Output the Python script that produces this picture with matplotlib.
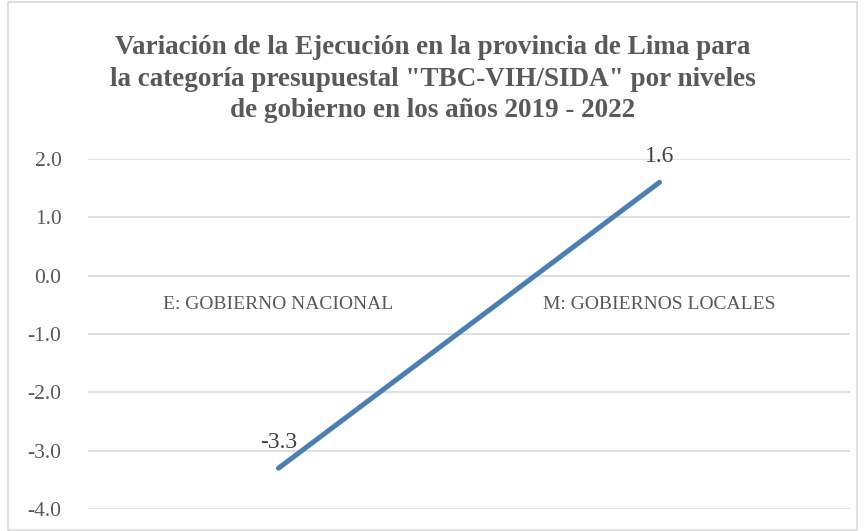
import matplotlib.pyplot as plt
from matplotlib.patches import Rectangle

# data
categories = ["E: GOBIERNO NACIONAL", "M: GOBIERNOS LOCALES"]
variation = [-3.3, 1.6]
y_ticks = [-4.0, -3.0, -2.0, -1.0, 0.0, 1.0, 2.0]

title = ('Variación de la Ejecución en la provincia de Lima para\n'
         'la categoría presupuestal "TBC-VIH/SIDA" por niveles\n'
         'de gobierno en los años 2019 - 2022')

plt.rcParams['font.family'] = ['Liberation Serif', 'DejaVu Serif']

fig = plt.figure(figsize=(8.65, 5.31), dpi=100)
ax = fig.add_axes([0.1017, 0.0414, 0.8810, 0.6592])

x = list(range(len(categories)))
ax.plot(x, variation, color='#4a7ebb', linewidth=3.6, solid_capstyle='round', zorder=3)

for xi, v in zip(x, variation):
    ax.annotate(f"{v:.1f}", (xi, v), xytext=(0, 11), textcoords='offset points',
                ha='center', va='bottom', fontsize=17, color='#404040')

# category axis crosses at zero, like the Excel original
ax.spines['bottom'].set_position(('data', 0))
ax.set_xlim(-0.5, 1.5)
ax.set_ylim(-4, 2)
ax.set_yticks(y_ticks)
ax.set_yticklabels([f"{t:.1f}" for t in y_ticks], fontsize=15.5, color='#595959')
ax.set_xticks(x)
ax.set_xticklabels(categories, fontsize=14, color='#595959')
ax.tick_params(axis='x', length=0, pad=14.5)
ax.tick_params(axis='y', length=0, pad=19)
for s in ax.spines.values():
    s.set_visible(False)
ax.grid(axis='y', color='#d9d9d9', linewidth=1.2)
ax.set_axisbelow(True)

fig.text(0.5, 0.851, title, ha='center', va='center', fontsize=19.5, fontweight='bold',
         color='#595959', linespacing=1.33)

# chart border
fig.patches.append(Rectangle((0.009, 0.002), 0.982, 0.994, transform=fig.transFigure,
                             fill=False, edgecolor='#d9d9d9', linewidth=1.2))

fig.savefig('out.png', dpi=100)
